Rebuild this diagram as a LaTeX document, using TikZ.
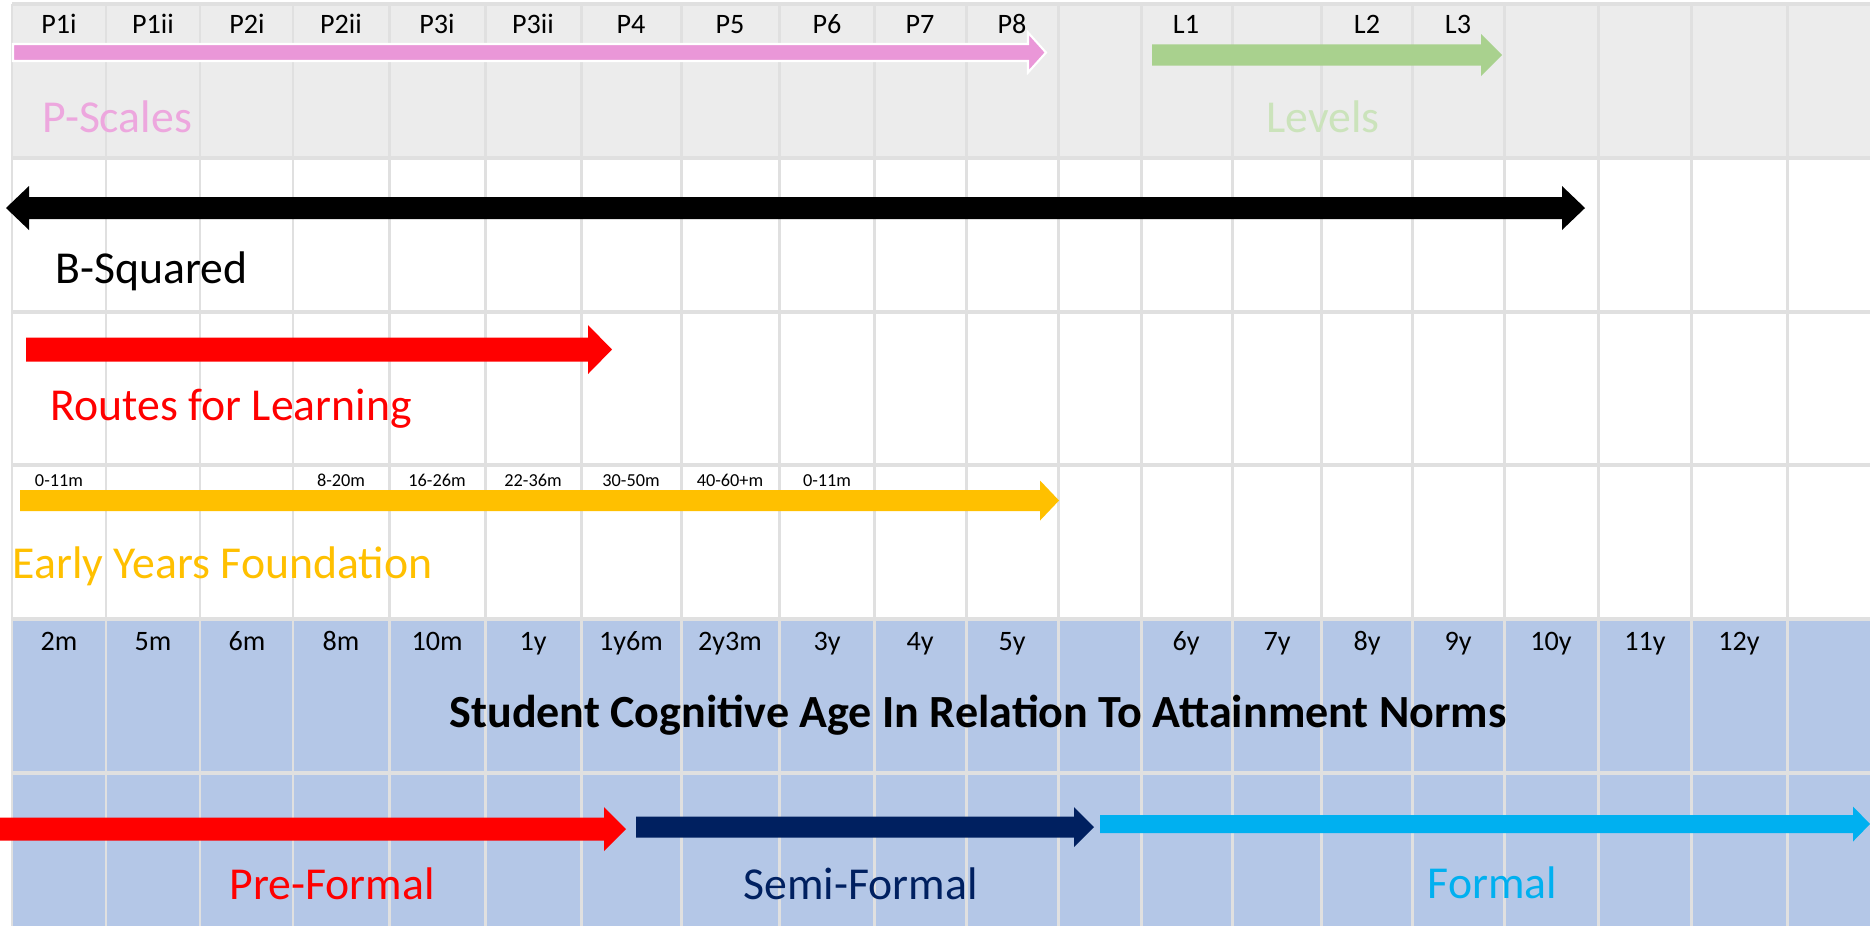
\documentclass[tikz,border=0pt]{standalone}
\usepackage{fontspec}
\setmainfont{Carlito}
\newcommand{\blockarrow}[7][]{\path[#1] (#2,#5-#6) -- (#3,#5-#6) -- (#3,#5-#7) -- (#4,#5) -- (#3,#5+#7) -- (#3,#5+#6) -- (#2,#5+#6) -- cycle;}
\tikzset{
  colhead/.style={inner sep=0, anchor=base, font=\fontsize{8}{9.6}\selectfont},
  monthtag/.style={inner sep=0, anchor=base, font=\fontsize{5.2}{6}\selectfont},
  bigtag/.style={inner sep=0, anchor=base west, font=\fontsize{13}{15.5}\selectfont},
  titletag/.style={inner sep=0, anchor=base, font=\bfseries\fontsize{13.1}{15.5}\selectfont}
}
\begin{document}
\begin{tikzpicture}[x=0.01cm, y=-0.01cm]
\useasboundingbox (0,0) rectangle (1870,926);
\fill[white] (0,0) rectangle (1870,926);
\definecolor{bandgray}{RGB}{236,236,236}
\definecolor{bandblue}{RGB}{180,199,231}
\definecolor{gridgray}{RGB}{224,224,224}
\fill[bandgray] (12,4) rectangle (1870,158);
\fill[bandblue] (12,619) rectangle (1870,926);
\foreach \x in {12,106,200,293,389,485,581,681,779,874,966,1058,1141,1232,1321,1412,1504,1598,1691,1787}
  \draw[gridgray, line width=0.85pt] (\x,4) -- (\x,926);
\foreach \y in {4,158,312,465,619,773}
  \draw[gridgray, line width=1.1pt] (12,\y) -- (1870,\y);
\definecolor{pscalepink}{RGB}{234,151,216}
\blockarrow[draw=white, line width=0.6pt, fill=pscalepink]{13}{1028}{1046}{52.5}{8.5}{20}
\definecolor{levelgreen}{RGB}{169,209,142}
\blockarrow[fill=levelgreen]{1152}{1481}{1502}{55}{10.7}{21}
\fill[black] (6,208) -- (29,186) -- (29,197) -- (1562,197) -- (1562,186) -- (1585,208) -- (1562,230) -- (1562,219) -- (29,219) -- (29,230) -- cycle;
\blockarrow[fill=red]{26}{588}{612}{349.5}{12}{24.5}
\definecolor{eyfsyellow}{RGB}{255,192,0}
\blockarrow[fill=eyfsyellow]{20}{1040}{1059}{500.5}{10.5}{20}
\blockarrow[fill=red]{0}{604}{626}{829}{11.5}{22}
\definecolor{semiblue}{RGB}{0,32,96}
\blockarrow[fill=semiblue]{636}{1074}{1094}{827}{10.5}{20}
\definecolor{formalblue}{RGB}{0,176,240}
\blockarrow[fill=formalblue]{1100}{1853}{1870}{824}{9}{17.5}
\foreach \lab/\cx [count=\i] in {P1i/59,P1ii/153,P2i/247,P2ii/341,P3i/437,P3ii/533,P4/631,P5/730,P6/827,P7/920,P8/1012,L1/1186,L2/1367,L3/1458}
  \node[colhead] (top\i) at (\cx,33) {\lab};
\foreach \lab/\cx [count=\i] in {0-11m/59,8-20m/341,16-26m/437,22-36m/533,30-50m/631,40-60+m/730,0-11m/827}
  \node[monthtag] (month\i) at (\cx,486) {\lab};
\foreach \lab/\cx [count=\i] in {2m/59,5m/153,6m/247,8m/341,10m/437,1y/533,1y6m/631,2y3m/730,3y/827,4y/920,5y/1012,6y/1186,7y/1277,8y/1367,9y/1458,10y/1551,11y/1645,12y/1739}
  \node[colhead] (age\i) at (\cx,650) {\lab};
\node[bigtag, text=pscalepink!85!white] (pscales) at (42,132) {P-Scales};
\node[bigtag, text=levelgreen!60!white] (levels) at (1266,132) {Levels};
\node[bigtag] (bsquared) at (55,283) {B-Squared};
\node[bigtag, text=red] (routes) at (50,420) {Routes for Learning};
\node[bigtag, text=eyfsyellow] (eyfs) at (12,578) {Early Years Foundation};
\node[titletag] (norms) at (978,727) {Student Cognitive Age In Relation To Attainment Norms};
\node[bigtag, text=red] (preformal) at (229,899) {Pre-Formal};
\node[bigtag, text=semiblue] (semiformal) at (743,899) {Semi-Formal};
\node[bigtag, text=formalblue] (formal) at (1427,898) {Formal};
\end{tikzpicture}
\end{document}
